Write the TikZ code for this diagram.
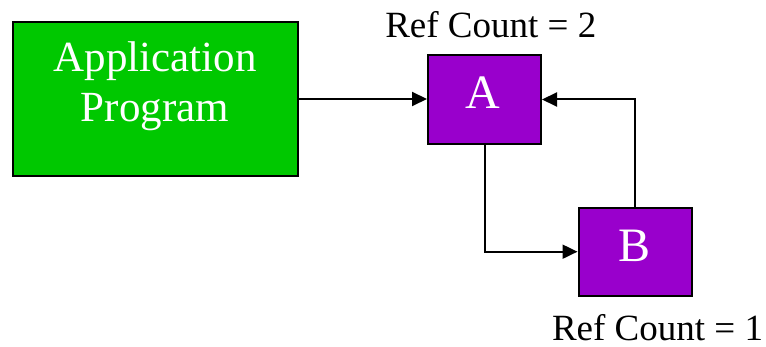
\documentclass[tikz,border=0pt]{standalone}
\usepackage{fontspec}
\setmainfont{Liberation Serif}
\usetikzlibrary{arrows.meta}
\definecolor{appgreen}{RGB}{0,200,0}
\definecolor{objpurple}{RGB}{153,0,204}
\tikzset{
  box/.style={draw=black, line width=2pt, inner sep=0pt},
  boxtext/.style={text=white, anchor=base, inner sep=0pt},
  caption/.style={text=black, anchor=base, inner sep=0pt, font=\fontsize{37}{44}\selectfont},
  conn/.style={draw=black, line width=2pt, -{Triangle[length=15pt,width=14pt]}}
}
\begin{document}
\begin{tikzpicture}[x=1pt,y=-1pt]
\useasboundingbox (0,0) rectangle (766,347);
\node[box, fill=appgreen, minimum width=285pt, minimum height=154pt] (app) at (155.5,99) {};
\node[boxtext, font=\fontsize{43}{50}\selectfont] (applbl1) at (155,72) {Application};
\node[boxtext, font=\fontsize{43}{50}\selectfont] (applbl2) at (155,122) {Program};
\node[box, fill=objpurple, minimum width=113pt, minimum height=89pt] (A) at (484.5,99.5) {};
\node[boxtext, font=\fontsize{48}{56}\selectfont] (Albl) at (483,109) {A};
\node[box, fill=objpurple, minimum width=113pt, minimum height=88pt] (B) at (635,251.7) {};
\node[boxtext, font=\fontsize{48}{56}\selectfont] (Blbl) at (635,261.7) {B};
\node[caption] (refA) at (490.8,37.7) {Ref Count = 2};
\node[caption] (refB) at (657.5,340.5) {Ref Count = 1};
\draw[conn] (app.east) -- (app.east -| A.west);
\draw[conn] (A.south) |- (B.west);
\draw[conn] (B.north) |- (A.east);
\end{tikzpicture}
\end{document}
